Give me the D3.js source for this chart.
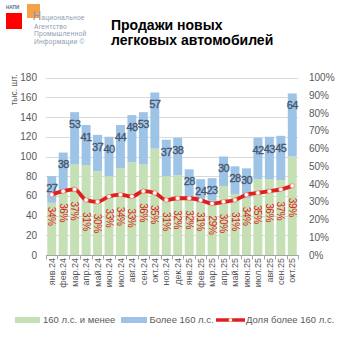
<!DOCTYPE html>
<meta charset="utf-8">
<style>
  body { margin: 0; background: #fff; }
  text { font-family: "Liberation Sans", Arial, sans-serif; }
</style>
<svg id="chart" width="353" height="353"></svg>
<script src="https://cdn.jsdelivr.net/npm/d3@7"></script>
<script>

var months = ["янв.24", "фев.24", "мар.24", "апр.24", "май.24", "июн.24", "июл.24", "авг.24",
              "сен.24", "окт.24", "ноя.24", "дек.24", "янв.25", "фев.25", "мар.25", "апр.25",
              "май.25", "июн.25", "июл.25", "авг.25", "сен.25", "окт.25"];
var under160 = [53, 66, 92, 91, 85, 80, 88, 94, 92, 108, 80, 81, 59, 53, 55, 70, 62, 58, 77, 77, 76, 100];
var over160 = [27, 38, 53, 41, 37, 40, 44, 48, 53, 57, 37, 38, 28, 24, 23, 30, 28, 30, 42, 43, 45, 64];
var share = [34, 36, 37, 31, 30, 33, 34, 33, 36, 35, 31, 32, 32, 31, 29, 30, 31, 34, 35, 36, 37, 39];
var leftTicks = [0, 20, 40, 60, 80, 100, 120, 140, 160, 180];
var rightTicks = [0, 10, 20, 30, 40, 50, 60, 70, 80, 90, 100];
var legendNames = ["160 л.с. и менее", "Более 160 л.с.", "Доля более 160 л.с."];

var svg = d3.select("#chart");

var green = "#c5e0b4", blue = "#9dc3e6", red = "#e0201c",
    axisText = "#595959", numText = "#44546a";

var x = d3.scaleBand().domain(months).range([46, 298]).paddingInner(0.22).paddingOuter(0.11);
var y = d3.scaleLinear().domain([0, 180]).range([255, 77.7]);
var y2 = d3.scaleLinear().domain([0, 100]).range([255, 77.7]);

// logo
var logo = svg.append("g");
logo.append("rect").attr("x", 27).attr("y", 4).attr("width", 13).attr("height", 14).attr("fill", "#f6a04a");
logo.append("rect").attr("x", 6).attr("y", 13).attr("width", 16).attr("height", 16).attr("fill", "#ff0000");
logo.append("text").attr("x", 6).attr("y", 8.5).attr("font-size", 4.6).attr("font-weight", "bold")
    .attr("fill", "#5a6a8a").text("НАПИ");
var first = logo.append("text").attr("x", 32.5).attr("y", 19.5).attr("fill", "#8a9ab0");
first.append("tspan").attr("font-size", 12).text("Н");
first.append("tspan").attr("font-size", 6.6).attr("letter-spacing", 0.3).text("ациональное");
var logoLines = ["Агентство", "Промышленной", "Информации ©"];
logo.selectAll("text.ln").data(logoLines).enter().append("text")
    .attr("class", "ln")
    .attr("x", 34)
    .attr("y", function(d, i) { return 28.5 + i * 7.7; })
    .attr("font-size", 6.6).attr("letter-spacing", 0.3)
    .attr("fill", "#8a9ab0")
    .text(function(d) { return d; });

// title
svg.append("text").attr("x", 111).attr("y", 29.5).attr("font-size", 14).attr("font-weight", "bold")
    .attr("fill", "#000").text("Продажи новых");
svg.append("text").attr("x", 111).attr("y", 45).attr("font-size", 14).attr("font-weight", "bold")
    .attr("fill", "#000").text("легковых автомобилей");

// gridlines
svg.append("g").selectAll("line").data(leftTicks.slice(1)).enter().append("line")
    .attr("x1", 46).attr("x2", 298)
    .attr("y1", function(d) { return Math.round(y(d)) + 0.5; })
    .attr("y2", function(d) { return Math.round(y(d)) + 0.5; })
    .attr("stroke", "#d9d9d9");

// left axis
svg.append("g").selectAll("text").data(leftTicks).enter().append("text")
    .attr("x", 37).attr("y", function(d) { return y(d); })
    .attr("dy", "0.35em").attr("text-anchor", "end")
    .attr("font-size", 10).attr("fill", axisText)
    .text(function(d) { return d; });

svg.append("text")
    .attr("transform", "translate(17,90) rotate(-90)")
    .attr("text-anchor", "middle").attr("font-size", 8.5).attr("fill", axisText)
    .text("тыс. шт.");

// right axis
svg.append("g").selectAll("text").data(rightTicks).enter().append("text")
    .attr("x", 309).attr("y", function(d) { return y2(d); })
    .attr("dy", "0.35em").attr("text-anchor", "start")
    .attr("font-size", 10).attr("fill", axisText)
    .text(function(d) { return d + "%"; });

// bars
var bars = svg.append("g");
bars.selectAll("rect.g").data(months).enter().append("rect")
    .attr("x", function(d) { return x(d); })
    .attr("width", x.bandwidth())
    .attr("y", function(d, i) { return y(under160[i]); })
    .attr("height", function(d, i) { return y(0) - y(under160[i]); })
    .attr("fill", green);
bars.selectAll("rect.b").data(months).enter().append("rect")
    .attr("x", function(d) { return x(d); })
    .attr("width", x.bandwidth())
    .attr("y", function(d, i) { return y(under160[i] + over160[i]); })
    .attr("height", function(d, i) { return y(under160[i]) - y(under160[i] + over160[i]); })
    .attr("fill", blue);

// x axis
svg.append("line").attr("x1", 46).attr("x2", 298).attr("y1", 255.5).attr("y2", 255.5)
    .attr("stroke", "#a6a6a6");
var bounds = d3.range(months.length + 1).map(function(i) { return 46 + i * (252 / months.length); });
svg.append("g").selectAll("line").data(bounds).enter().append("line")
    .attr("x1", function(d) { return Math.round(d) + 0.5; })
    .attr("x2", function(d) { return Math.round(d) + 0.5; })
    .attr("y1", 255).attr("y2", 259.5)
    .attr("stroke", "#a6a6a6");
svg.append("g").selectAll("text").data(months).enter().append("text")
    .attr("transform", function(d) {
      return "translate(" + (x(d) + x.bandwidth() / 2) + ",258) rotate(-90)";
    })
    .attr("dy", "0.35em").attr("text-anchor", "end")
    .attr("font-size", 9).attr("fill", axisText)
    .text(function(d) { return d; });

// value labels on blue part
svg.append("g").selectAll("text").data(months).enter().append("text")
    .attr("x", function(d) { return x(d) + x.bandwidth() / 2; })
    .attr("y", function(d, i) { return y(under160[i] + over160[i]) + 12; })
    .attr("dy", "0.35em").attr("text-anchor", "middle")
    .attr("font-size", 11).attr("letter-spacing", -0.6)
    .attr("fill", numText).attr("stroke", numText).attr("stroke-width", 0.3)
    .text(function(d, i) { return over160[i]; });

// share line
var line = d3.line()
    .x(function(d, i) { return x(months[i]) + x.bandwidth() / 2; })
    .y(function(d) { return y2(d); })
    .curve(d3.curveMonotoneX);
svg.append("path").datum(share)
    .attr("d", line)
    .attr("fill", "none").attr("stroke", red).attr("stroke-width", 3.8)
    .attr("stroke-linejoin", "round");
svg.append("g").selectAll("circle").data(share).enter().append("circle")
    .attr("cx", function(d, i) { return x(months[i]) + x.bandwidth() / 2; })
    .attr("cy", function(d) { return y2(d); })
    .attr("r", 2.2).attr("fill", "#fff").attr("stroke", "#f07070").attr("stroke-width", 0.7);

svg.append("g").selectAll("text").data(share).enter().append("text")
    .attr("transform", function(d, i) {
      return "translate(" + (x(months[i]) + x.bandwidth() / 2) + "," + (y2(d) + 12) + ") rotate(90)";
    })
    .attr("dy", "0.35em").attr("text-anchor", "start")
    .attr("font-size", 10).attr("letter-spacing", -0.4)
    .attr("fill", red)
    .text(function(d) { return d + "%"; });

// legend
var lg = svg.append("g");
lg.append("rect").attr("x", 15).attr("y", 317).attr("width", 25).attr("height", 6).attr("fill", green);
lg.append("text").attr("x", 43).attr("y", 323).attr("font-size", 9.5).attr("fill", axisText).text(legendNames[0]);
lg.append("rect").attr("x", 121).attr("y", 317).attr("width", 26).attr("height", 6).attr("fill", blue);
lg.append("text").attr("x", 149.5).attr("y", 323).attr("font-size", 9.5).attr("fill", axisText).text(legendNames[1]);
lg.append("line").attr("x1", 216).attr("x2", 245).attr("y1", 320).attr("y2", 320)
    .attr("stroke", red).attr("stroke-width", 3.5);
lg.append("circle").attr("cx", 230.5).attr("cy", 320).attr("r", 1.8).attr("fill", "#fff");
lg.append("text").attr("x", 246).attr("y", 323).attr("font-size", 9.5).attr("fill", axisText).text(legendNames[2]);

</script>
